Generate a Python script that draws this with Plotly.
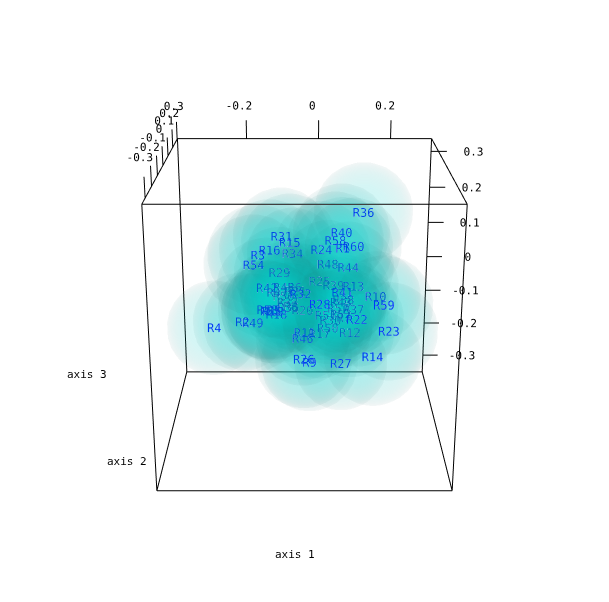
import numpy as np
import plotly.graph_objects as go

labels = [f"R{i}" for i in range(1, 61)]
x_val = [.051,-.190,-.150,-.268,-.114,-.065,.065,-.078,-.027,.149,-.039,.082,.090,.128,-.076,-.122,.001,-.107,-.113,-.045,
         -.065,.093,.166,.003,.002,-.041,.054,-.004,-.105,.031,-.096,-.049,-.086,-.070,-.082,.103,.091,.064,.040,.052,
         .056,-.130,.057,.076,-.094,-.044,-.111,.024,-.165,.023,.017,.057,-.129,-.160,-.121,-.097,.051,.037,.152,.082]
y_val = [-.188,-.188,-.188,-.086,-.188,.044,.044,.146,-.188,.044,-.086,.044,.044,-.188,-.086,-.188,.044,-.188,-.281,.146,
         .239,-.086,-.188,-.086,.146,-.188,-.086,-.281,.044,.081,-.086,-.188,.146,.044,.044,-.119,.044,.044,.146,-.086,
         -.086,-.188,.044,.044,.044,-.086,.044,.146,-.188,.044,.044,.044,-.188,-.188,-.188,.146,.072,-.086,-.188,-.086]
z_val = [.186,.004,.169,-.053,.034,.005,-.078,-.086,-.100,-.020,-.066,-.120,.008,-.086,.167,.181,-.123,.023,.067,-.098,
         -.077,-.031,-.020,.149,-.015,-.092,-.149,.084,.045,-.100,.182,.074,-.074,.096,-.050,.251,-.056,-.029,-.027,.192,
         .040,.089,-.036,.059,.005,-.082,-.009,.033,.001,-.107,-.072,-.068,.034,.145,.031,-.057,-.063,.172,.046,.157]
sphere_radius = 0.12
x_range = [-0.392, 0.314]
y_range = [-0.349, 0.307]
z_range = [-0.353, 0.335]
tick_x = [-0.2, 0, 0.2]
tick_yz = [-0.3, -0.2, -0.1, 0, 0.1, 0.2, 0.3]

cam_d = 3.99
elev = np.radians(20)
eye = np.array([0, -cam_d*np.cos(elev), cam_d*np.sin(elev)])
pad = 2.6   # scene is wider than the box so that ticks and their labels are not clipped

def scene_range(r):
    c, h = (r[0]+r[1])/2, (r[1]-r[0])/2
    return [c-h*pad, c+h*pad]

ctr = np.array([(r[0]+r[1])/2 for r in (x_range, y_range, z_range)])
half = np.array([(r[1]-r[0])/2 for r in (x_range, y_range, z_range)])
data = np.column_stack([x_val, y_val, z_val])
scene_pts = (data-ctr)/half*0.5          # box is a unit cube in camera space

# how many spheres lie in front of each label, along its line of sight
view = eye/np.linalg.norm(eye)
R_scene = sphere_radius/0.353*0.5
def n_front(i):
    p = scene_pts[i]
    ray = (p-eye)/np.linalg.norm(p-eye)
    n = 0
    for j in range(len(scene_pts)):
        if j == i:
            continue
        oc = scene_pts[j]-eye
        t = oc @ ray
        dist = np.linalg.norm(oc-t*ray)
        if dist < R_scene and t-np.sqrt(R_scene**2-dist**2) < np.linalg.norm(p-eye):
            n += 1
    return n
mix = [min(0.8, 1-0.94**n_front(i)) for i in range(len(labels))]
label_colors = [f"rgb(0,{int(51+(140-51)*m)},{int(255+(165-255)*m)})" for m in mix]
# labels stay on their line of sight but are drawn nearer the camera so the depth
# fade above replaces what the translucent layer would otherwise hide completely
near = eye+0.74*(scene_pts-eye)
near_data = near/0.5*half+ctr

nlat, nlon = 14, 22
th = np.linspace(0, np.pi, nlat)
ph = np.linspace(0, 2*np.pi, nlon, endpoint=False)
T, P = np.meshgrid(th, ph, indexing="ij")
ux, uy, uz = (np.sin(T)*np.cos(P)).ravel(), (np.sin(T)*np.sin(P)).ravel(), np.cos(T).ravel()
fi, fj, fk = [], [], []
for a in range(nlat-1):
    for b in range(nlon):
        p = a*nlon+b; q = a*nlon+(b+1) % nlon; r = p+nlon; s = q+nlon
        fi += [p, q]; fj += [r, r]; fk += [q, s]
vx, vy, vz, I, J, K = [], [], [], [], [], []
facing = np.abs(ux*view[0]+uy*view[1]+uz*view[2])
cols = [f"rgba({int(40*(1-f)**1.5)},{int(90+130*f)},{int(90+125*f)},{0.02+0.085*f:.3f})" for f in facing]
sx, sy, sz = half/0.353
for n in range(len(labels)):
    off = n*len(ux)
    vx.append(x_val[n]+sphere_radius*sx*ux); vy.append(y_val[n]+sphere_radius*sy*uy); vz.append(z_val[n]+sphere_radius*sz*uz)
    I += [v+off for v in fi]; J += [v+off for v in fj]; K += [v+off for v in fk]

fig = go.Figure()
fig.add_trace(go.Mesh3d(x=np.concatenate(vx), y=np.concatenate(vy), z=np.concatenate(vz), i=I, j=J, k=K,
                        vertexcolor=cols*len(labels), opacity=0.95, flatshading=False,
                        lighting=dict(ambient=1, diffuse=0, specular=0, fresnel=0), hoverinfo="skip"))
fig.add_trace(go.Scatter3d(x=near_data[:, 0], y=near_data[:, 1], z=near_data[:, 2], mode="text", text=labels,
                           textposition="middle center",
                           textfont=dict(color=label_colors, size=12, family="DejaVu Sans Mono"), hoverinfo="text"))

ex, ey, ez = [], [], []
def seg(a, b):
    ex.extend([a[0], b[0], None]); ey.extend([a[1], b[1], None]); ez.extend([a[2], b[2], None])
x0, x1 = x_range; y0, y1 = y_range; z0, z1 = z_range
for a in (y0, y1):
    for b in (z0, z1):
        seg((x0, a, b), (x1, a, b))
for a in (x0, x1):
    for b in (z0, z1):
        seg((a, y0, b), (a, y1, b))
for a in (x0, x1):
    for b in (y0, y1):
        seg((a, b, z0), (a, b, z1))
for v in tick_x:
    seg((v, y1, z1), (v, y1, z1+.05))
for v in tick_yz:
    seg((x0, v, z1), (x0, v, z1+.047)); seg((x1, y1, v), (x1+.044, y1, v))
fig.add_trace(go.Scatter3d(x=ex, y=ey, z=ez, mode="lines", line=dict(color="black", width=2), hoverinfo="skip"))

def tfmt(v):
    return "0" if v == 0 else str(v)
tx = [v-.018 for v in tick_x] + [x0-.006]*7 + [x1+.118]*7
ty = [y1]*3 + tick_yz + [y1]*7
tz = [z1+.09]*3 + [z1+.09]*7 + tick_yz
fig.add_trace(go.Scatter3d(x=tx, y=ty, z=tz, mode="text", text=[tfmt(v) for v in tick_x+tick_yz+tick_yz],
                           textposition="middle center",
                           textfont=dict(color="black", size=11, family="DejaVu Sans Mono"), hoverinfo="skip"))

S = 903
fig.update_layout(width=S, height=S, margin=dict(l=0, r=0, t=0, b=0), paper_bgcolor="white", showlegend=False,
                  scene=dict(xaxis=dict(range=scene_range(x_range), visible=False),
                             yaxis=dict(range=scene_range(y_range), visible=False),
                             zaxis=dict(range=scene_range(z_range), visible=False),
                             aspectmode="manual", aspectratio=dict(x=pad, y=pad, z=pad),
                             domain=dict(x=[0, 1], y=[0, 1]),
                             camera=dict(eye=dict(x=eye[0], y=eye[1], z=eye[2]), center=dict(x=0, y=0, z=0),
                                         up=dict(x=0, y=0, z=1), projection=dict(type="perspective"))))
dx, dy = (S-609)/2, (S-602)/2
for txt, px, py in [("axis 1", 295, 554), ("axis 2", 127, 461), ("axis 3", 87, 374)]:
    fig.add_annotation(text=txt, x=(px+dx)/S, y=1-(py+dy)/S, xref="paper", yref="paper", showarrow=False,
                       xanchor="center", yanchor="middle",
                       font=dict(family="DejaVu Sans Mono", size=11, color="black"))
post = f"""document.body.style.margin='0';document.body.style.overflow='hidden';
var g=document.getElementById('{{plot_id}}');g.style.position='absolute';g.style.left='{-dx}px';g.style.top='{-dy}px';"""
fig.write_html("out.html", post_script=post, config=dict(displayModeBar=False))
